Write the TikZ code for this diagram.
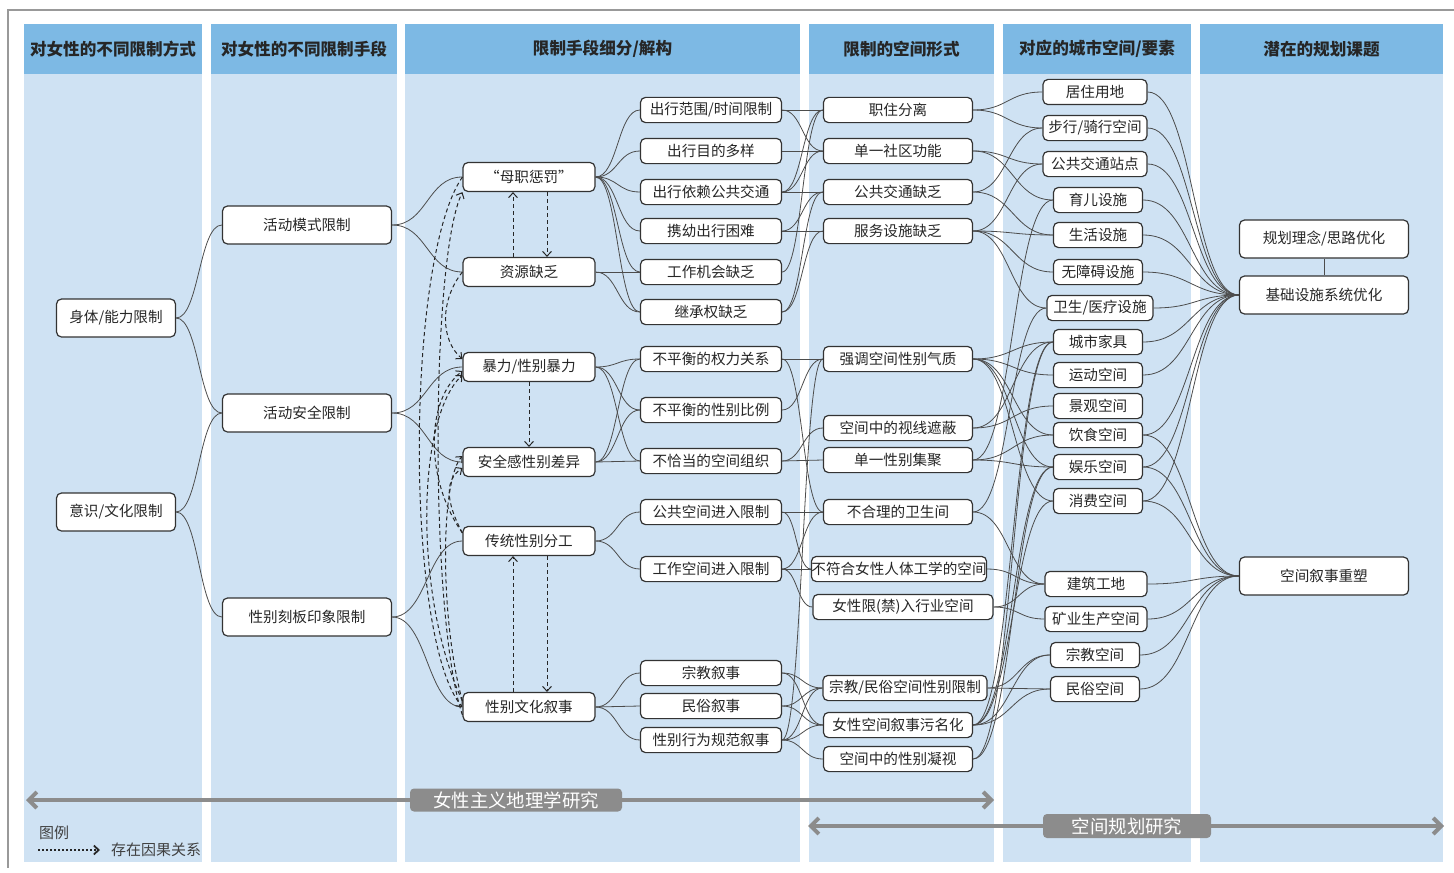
\documentclass[tikz,border=0pt]{standalone}
\usepackage{fontspec}
\setmainfont{Noto Sans CJK SC}
\usetikzlibrary{arrows.meta,calc,positioning}

\definecolor{headblue}{HTML}{7DB9E4}
\definecolor{bodyblue}{HTML}{CFE2F3}
\definecolor{taggray}{HTML}{8C8C8C}

\tikzset{
  box/.style={draw=black!80, fill=white, rounded corners=2.5pt, line width=0.6pt,
    inner sep=0pt, text=black!85, font=\fontsize{7.3}{8}\selectfont},
  big/.style={box, minimum height=19pt},
  mid/.style={box, minimum width=66pt, minimum height=14.5pt},
  sub/.style={box, minimum width=70.5pt, minimum height=12.6pt},
  form/.style={box, minimum width=74.5pt, minimum height=12.6pt},
  elem/.style={box, minimum width=44.5pt, minimum height=12.6pt},
  link/.style={draw=black!70, line width=0.4pt,
    to path={let \p1=(\tikztostart), \p2=(\tikztotarget), \n1={0.5*(\x2-\x1)} in
      .. controls +(\n1*1pt,0pt) and +(-\n1*1pt,0pt) .. (\tikztotarget)}},
  cause/.style={draw=black!85, line width=0.5pt, dash pattern=on 2pt off 1.5pt,
    -{Straight Barb[length=2.4pt,width=4.4pt]}},
  span/.style={draw=taggray, line width=2pt,
    {Straight Barb[length=4pt,width=8pt]}-{Straight Barb[length=4pt,width=8pt]}},
  tag/.style={fill=taggray, rounded corners=2pt, text=white, inner sep=0pt,
    font=\fontsize{9.2}{10}\selectfont},
  head/.style={text=black!85, font=\fontsize{8.3}{9}\selectfont\bfseries},
}

\begin{document}
\begin{tikzpicture}[x=0.5pt,y=-0.5pt]
\useasboundingbox (0,0) rectangle (1454,872);
\draw[black!40, line width=0.8pt] (1454,10) -- (8,10) -- (8,868);

% column bands with headers
\foreach \xa/\xb/\i/\txt in {24/202/1/对女性的不同限制方式, 211/397/2/对女性的不同限制手段,
    405/800/3/{限制手段细分/解构}, 809/994/4/限制的空间形式,
    1003/1191/5/{对应的城市空间/要素}, 1200/1443/6/潜在的规划课题} {
  \fill[bodyblue] (\xa,74) rectangle (\xb,862);
  \fill[headblue] (\xa,24) rectangle (\xb,74);
  \node[head] (h\i) at ({(\xa+\xb)/2},49) {\txt};
}

% ways of restriction
\node[big, minimum width=59.5pt] (body) at (116,318) {身体/能力限制};
\node[big, minimum width=59.5pt] (mind) at (116,512) {意识/文化限制};

% means of restriction
\node[big, minimum width=84.5pt] (mode) at (307,225) {活动模式限制};
\node[big, minimum width=84.5pt] (safe) at (307,413) {活动安全限制};
\node[big, minimum width=84.5pt] (stereo) at (307,617) {性别刻板印象限制};

% breakdown, first level
\node[mid] (mp) at (529,177) {“母职惩罚”};
\node[mid] (res) at (529,272) {资源缺乏};
\node[mid] (vio) at (529,367) {暴力/性别暴力};
\node[mid] (sec) at (529,462) {安全感性别差异};
\node[mid] (div) at (529,541) {传统性别分工};
\node[mid] (cul) at (529,707) {性别文化叙事};

% breakdown, second level
\node[sub] (t1) at (711,110) {出行范围/时间限制};
\node[sub] (t2) at (711,151) {出行目的多样};
\node[sub] (t3) at (711,192) {出行依赖公共交通};
\node[sub] (t4) at (711,231) {携幼出行困难};
\node[sub] (t5) at (711,272) {工作机会缺乏};
\node[sub] (t6) at (711,312) {继承权缺乏};
\node[sub] (p1) at (711,359) {不平衡的权力关系};
\node[sub] (p2) at (711,410) {不平衡的性别比例};
\node[sub] (p3) at (711,461) {不恰当的空间组织};
\node[sub] (a1) at (711,512) {公共空间进入限制};
\node[sub] (a2) at (711,569) {工作空间进入限制};
\node[sub] (n1) at (711,673) {宗教叙事};
\node[sub] (n2) at (711,706) {民俗叙事};
\node[sub] (n3) at (711,740) {性别行为规范叙事};

% spatial forms
\node[form] (s1) at (898,110) {职住分离};
\node[form] (s2) at (898,151) {单一社区功能};
\node[form] (s3) at (898,192) {公共交通缺乏};
\node[form] (s4) at (898,231) {服务设施缺乏};
\node[form] (s5) at (898,359) {强调空间性别气质};
\node[form] (s6) at (898,428) {空间中的视线遮蔽};
\node[form] (s7) at (898,460) {单一性别集聚};
\node[form] (s8) at (898,512) {不合理的卫生间};
\node[form, minimum width=87pt] (s9) at (899,569) {不符合女性人体工学的空间};
\node[form, minimum width=90pt] (s10) at (903,607) {女性限(禁)入行业空间};
\node[form, minimum width=82pt] (s11) at (905,688) {宗教/民俗空间性别限制};
\node[form] (s12) at (898,725) {女性空间叙事污名化};
\node[form] (s13) at (898,759) {空间中的性别凝视};

% urban spaces and elements
\node[elem, minimum width=52pt] (c1) at (1095,92) {居住用地};
\node[elem, minimum width=52pt] (c2) at (1095,128) {步行/骑行空间};
\node[elem, minimum width=52pt] (c3) at (1095,164) {公共交通站点};
\node[elem] (c4) at (1098,200) {育儿设施};
\node[elem] (c5) at (1098,235) {生活设施};
\node[elem] (c6) at (1098,272) {无障碍设施};
\node[elem, minimum width=53pt] (c7) at (1100,308) {卫生/医疗设施};
\node[elem] (c8) at (1098,342) {城市家具};
\node[elem] (c9) at (1098,375) {运动空间};
\node[elem] (c10) at (1098,406) {景观空间};
\node[elem] (c11) at (1098,435) {饮食空间};
\node[elem] (c12) at (1098,467) {娱乐空间};
\node[elem] (c13) at (1098,501) {消费空间};
\node[elem, minimum width=51pt] (c14) at (1096,584) {建筑工地};
\node[elem, minimum width=51pt] (c15) at (1096,619) {矿业生产空间};
\node[elem] (c16) at (1095,655) {宗教空间};
\node[elem] (c17) at (1095,689) {民俗空间};

% planning topics
\node[big, minimum width=84.5pt] (idea) at (1324,239) {规划理念/思路优化};
\node[big, minimum width=84.5pt] (infra) at (1324,295) {基础设施系统优化};
\node[big, minimum width=84.5pt] (story) at (1324,576) {空间叙事重塑};
\draw[black!70, line width=0.4pt] (idea) -- (infra);

% solid links, column by column
\foreach \a/\b in {body/mode, body/safe, mind/safe, mind/stereo,
    mode/mp, mode/res, safe/vio, safe/sec, stereo/div, stereo/cul,
    mp/t1, mp/t2, mp/t3, mp/t4, mp/t5, mp/t6, res/t5, res/t6,
    vio/p1, vio/p2, vio/p3, sec/p1, sec/p2, sec/p3,
    div/a1, div/a2, cul/n1, cul/n2, cul/n3,
    t1/s1, t1/s2, t2/s2, t3/s1, t3/s2, t3/s3, t4/s3, t4/s4, t5/s1, t6/s3, t6/s4,
    p1/s5, p1/s8, p2/s5, p3/s6, p3/s7, a1/s8, a1/s9, a2/s8, a2/s9, a2/s10,
    n1/s11, n1/s12, n2/s11, n2/s12, n3/s5, n3/s11, n3/s12, n3/s13,
    s1/c1, s1/c2, s2/c3, s2/c4, s3/c2, s3/c5, s4/c3, s4/c5, s4/c6, s4/c7,
    s5/c8, s5/c9, s5/c11, s5/c12, s5/c13, s6/c8, s6/c10, s7/c4, s7/c11, s7/c12,
    s8/c7, s8/c14, s9/c14, s10/c14, s10/c15, s11/c16, s11/c17,
    s12/c8, s12/c12, s12/c13, s12/c16, s12/c17, s13/c8, s13/c12,
    c1/infra, c2/infra, c3/infra, c4/infra, c5/infra, c6/infra, c7/infra,
    c8/infra, c9/infra, c11/infra, c12/infra, c13/infra,
    c11/story, c12/story, c13/story, c14/story, c15/story, c16/story, c17/story}
  \draw[link] (\a.east) to (\b.west);

% causal links
\draw[cause] ([xshift=-8pt]res.north) -- ([xshift=-8pt]mp.south);
\draw[cause] ([xshift=9pt]mp.south) -- ([xshift=9pt]res.north);
\draw[cause] (vio.south) -- (sec.north);
\draw[cause] ([xshift=-8pt]cul.north) -- ([xshift=-8pt]div.south);
\draw[cause] ([xshift=9pt]div.south) -- ([xshift=9pt]cul.north);
\draw[cause] (mp.west) .. controls (405,260) and (405,640) .. (cul.west);
\draw[cause] ([yshift=-4pt]cul.west) .. controls (430,620) and (430,260) .. (mp.south west);
\draw[cause] (res.west) .. controls (440,300) and (440,340) .. ([yshift=4pt]vio.west);
\draw[cause] ([yshift=4pt]div.west) .. controls (425,480) and (425,400) .. ([yshift=-2pt]vio.west);
\draw[cause] ([yshift=4pt]div.west) .. controls (445,500) and (445,480) .. ([yshift=-3pt]sec.west);
\draw[cause] ([yshift=3pt]cul.west) .. controls (415,600) and (415,420) .. ([yshift=-4pt]vio.west);
\draw[cause] ([yshift=3pt]cul.west) .. controls (440,620) and (440,480) .. ([yshift=3pt]sec.west);

% research spans
\coordinate (f1) at (26,800); \coordinate (f2) at (994,800);
\coordinate (g1) at (808,826); \coordinate (g2) at (1444,826);
\draw[span] (f1) -- (f2);
\draw[span] (g1) -- (g2);
\node[tag, minimum width=106pt, minimum height=11.5pt] (fem) at (516,800) {女性主义地理学研究};
\node[tag, minimum width=84pt, minimum height=12pt] (plan) at (1127,826) {空间规划研究};

% legend
\node[anchor=west, text=black!75, font=\fontsize{7.5}{8}\selectfont] (leg) at (32,833) {图例};
\coordinate (k1) at (38,850); \coordinate (k2) at (100,850);
\draw[cause, line width=0.9pt, dash pattern=on 0.9pt off 1.1pt] (k1) -- (k2);
\node[anchor=west, text=black!75, font=\fontsize{7.5}{8}\selectfont] (legtxt) at (104,850) {存在因果关系};
\end{tikzpicture}
\end{document}
